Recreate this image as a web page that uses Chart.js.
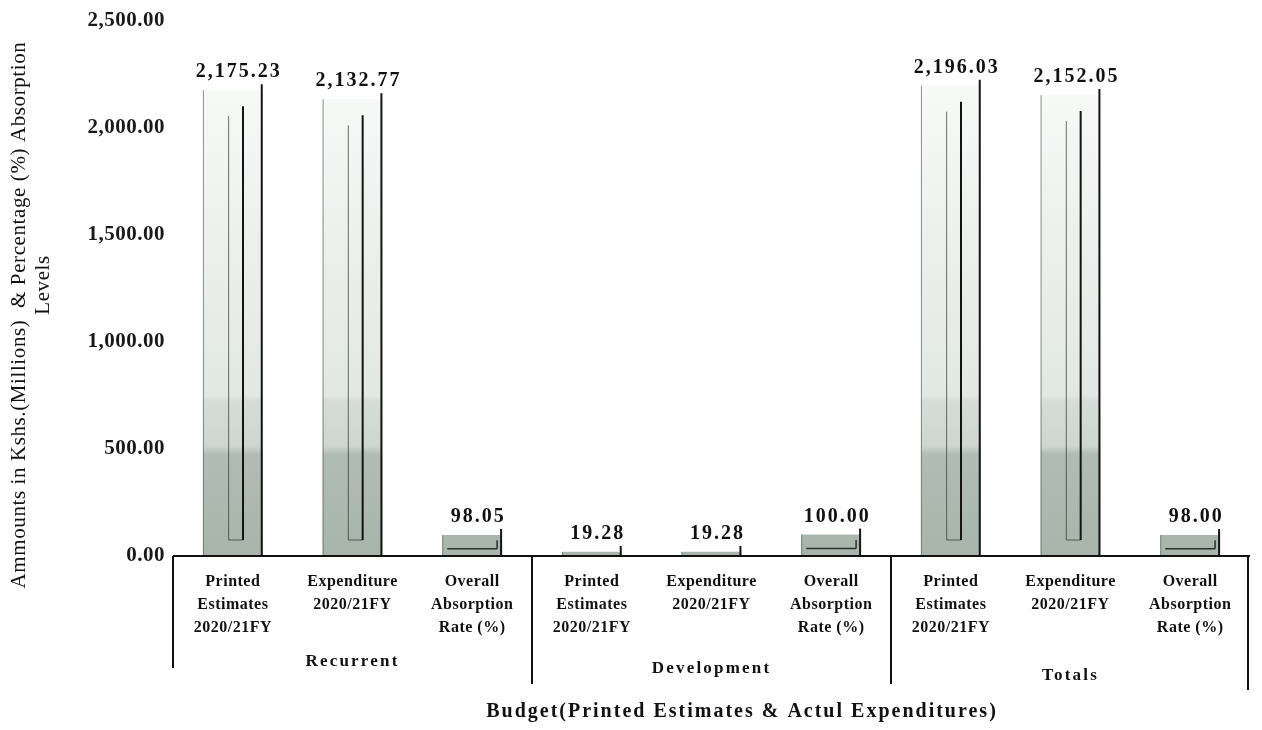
<!DOCTYPE html>
<html>
<head>
<meta charset="utf-8">
<script src="https://cdn.jsdelivr.net/npm/chart.js@4.4.1/dist/chart.umd.min.js"></script>
<style>
  html, body { margin: 0; padding: 0; background: #ffffff; }
  #wrap { width: 1262px; height: 730px; position: relative; }
</style>
</head>
<body>
<div id="wrap"><canvas id="budget"></canvas></div>
<script>
// Budget categories (one column per label, grouped by vote)
const categories = [
  ["Printed", "Estimates", "2020/21FY"],
  ["Expenditure", "2020/21FY"],
  ["Overall", "Absorption", "Rate (%)"],
  ["Printed", "Estimates", "2020/21FY"],
  ["Expenditure", "2020/21FY"],
  ["Overall", "Absorption", "Rate (%)"],
  ["Printed", "Estimates", "2020/21FY"],
  ["Expenditure", "2020/21FY"],
  ["Overall", "Absorption", "Rate (%)"]
];
const groups = ["Recurrent", "Development", "Totals"];

// Kshs. millions for estimates/expenditure, percent for absorption
const recurrentValues   = [2175.23, 2132.77, 98.05];
const developmentValues = [19.28, 19.28, 100.00];
const totalsValues      = [2196.03, 2152.05, 98.00];
const values = [...recurrentValues, ...developmentValues, ...totalsValues];

const yTicks = [0, 500, 1000, 1500, 2000, 2500];

const yTitle = ["Ammounts in Kshs.(Millions)  & Percentage (%) Absorption", "Levels"];
const xTitle = "Budget(Printed Estimates & Actul Expenditures)";

const SERIF = '"Liberation Serif", "Times New Roman", serif';
const fmt = v => v.toLocaleString('en-US', { minimumFractionDigits: 2, maximumFractionDigits: 2 });

// Column fill: darker grey-green at the base, fading to near white upward
function barFill(context) {
  const chart = context.chart;
  const y = chart.scales.y;
  if (!chart.chartArea || !y) return '#c9d2cb';
  const g = chart.ctx.createLinearGradient(0, y.getPixelForValue(0), 0, y.getPixelForValue(2500));
  g.addColorStop(0.00, '#a8b5ab');
  g.addColorStop(0.19, '#b1bdb4');
  g.addColorStop(0.205, '#cdd6cf');
  g.addColorStop(0.29, '#d6ddd8');
  g.addColorStop(0.30, '#e2e8e3');
  g.addColorStop(0.60, '#edf1ee');
  g.addColorStop(0.90, '#f8faf8');
  return g;
}

function seg(ctx, x1, y1, x2, y2) {
  ctx.beginPath();
  ctx.moveTo(x1, y1);
  ctx.lineTo(x2, y2);
  ctx.stroke();
}

const decor = {
  id: 'decor',
  beforeDraw(chart) {
    // slightly open tracking for the axis labels
    chart.ctx.letterSpacing = '0.5px';
  },
  afterDatasetsDraw(chart) {
    const ctx = chart.ctx;
    const meta = chart.getDatasetMeta(0);
    meta.data.forEach((bar, i) => {
      const p = bar.getProps(['x', 'y', 'base', 'width'], true);
      const l = p.x - p.width / 2, r = p.x + p.width / 2;
      const top = p.y, base = p.base, h = base - top;
      ctx.save();
      // front-left edge
      ctx.strokeStyle = 'rgba(80,92,84,0.65)';
      ctx.lineWidth = 1;
      seg(ctx, l + 0.5, top, l + 0.5, base);
      // dark depth edge on the right
      ctx.strokeStyle = '#141414';
      ctx.lineWidth = 2;
      seg(ctx, r - 1, top - 6, r - 1, base);
      // inner tube
      if (h > 60) {
        const tl = p.x - p.width * 0.07, tr = p.x + p.width * 0.17;
        const tt = top + 16, tb = base - 16;
        ctx.strokeStyle = 'rgba(40,52,44,0.7)';
        ctx.lineWidth = 1;
        seg(ctx, tl, tt + 10, tl, tb);
        seg(ctx, tl, tb, tr, tb);
        ctx.strokeStyle = '#141414';
        ctx.lineWidth = 2;
        seg(ctx, tr, tt, tr, tb);
      } else if (h > 10) {
        ctx.strokeStyle = '#2a302c';
        ctx.lineWidth = 1.5;
        seg(ctx, l + 5, base - h * 0.35, r - 5, base - h * 0.35);
        seg(ctx, r - 5, base - h * 0.35, r - 5, base - h * 0.75);
      }
      // value label
      ctx.fillStyle = '#111111';
      ctx.font = 'bold 20px ' + SERIF;
      ctx.letterSpacing = '2px';
      ctx.textAlign = 'center';
      ctx.textBaseline = 'bottom';
      ctx.fillText(fmt(values[i]), p.x + 6, top - 8);
      ctx.restore();
    });
  },
  afterDraw(chart) {
    const ctx = chart.ctx;
    const xs = chart.scales.x, ys = chart.scales.y;
    const area = chart.chartArea;
    const base = ys.getPixelForValue(0);
    ctx.save();
    ctx.strokeStyle = '#111111';
    ctx.lineWidth = 2;
    // category axis line and the grouping frame below it
    seg(ctx, area.left, base, area.right, base);
    seg(ctx, area.left, base, area.left, 668);
    seg(ctx, xs.getPixelForValue(2.5), base, xs.getPixelForValue(2.5), 684);
    seg(ctx, xs.getPixelForValue(5.5), base, xs.getPixelForValue(5.5), 684);
    seg(ctx, area.right - 2, base, area.right - 2, 690);

    // group names
    ctx.fillStyle = '#111111';
    ctx.font = 'bold 17px ' + SERIF;
    ctx.letterSpacing = '2.2px';
    ctx.textAlign = 'center';
    ctx.textBaseline = 'middle';
    const gy = [662, 669, 676];
    groups.forEach((g, k) => {
      ctx.fillText(g, xs.getPixelForValue(k * 3 + 1), gy[k]);
    });

    // category axis title
    ctx.font = 'bold 20px ' + SERIF;
    ctx.letterSpacing = '2px';
    ctx.fillText(xTitle, 742, 712);

    // value axis title (rotated, two lines)
    ctx.font = '21px ' + SERIF;
    ctx.letterSpacing = '0.6px';
    ctx.save();
    ctx.translate(19, 315);
    ctx.rotate(-Math.PI / 2);
    ctx.fillText(yTitle[0], 0, 0);
    ctx.restore();
    ctx.save();
    ctx.translate(43, 285);
    ctx.rotate(-Math.PI / 2);
    ctx.fillText(yTitle[1], 0, 0);
    ctx.restore();
    ctx.restore();
  }
};

new Chart(document.getElementById('budget'), {
  type: 'bar',
  data: {
    labels: categories,
    datasets: [{
      data: values,
      backgroundColor: barFill,
      borderWidth: 0,
      barPercentage: 0.5,
      categoryPercentage: 1.0
    }]
  },
  options: {
    responsive: true,
    maintainAspectRatio: false,
    animation: false,
    layout: { padding: { top: 18, right: 12, left: 0, bottom: 0 } },
    plugins: {
      legend: { display: false },
      tooltip: { enabled: false }
    },
    scales: {
      x: {
        type: 'category',
        offset: true,
        grid: { display: false, drawTicks: false },
        border: { display: false },
        ticks: {
          autoSkip: false,
          maxRotation: 0,
          minRotation: 0,
          padding: 14,
          color: '#111111',
          font: { family: SERIF, size: 16, weight: 'bold', lineHeight: 1.45 }
        },
        afterFit(scale) { scale.height = 174; }
      },
      y: {
        min: 0,
        max: 2500,
        afterBuildTicks(scale) { scale.ticks = yTicks.map(v => ({ value: v })); },
        grid: { display: false, drawTicks: false },
        border: { display: false },
        ticks: {
          padding: 8,
          color: '#1a1a1a',
          font: { family: SERIF, size: 21, weight: 'bold' },
          callback: v => fmt(v)
        },
        afterFit(scale) { scale.width = 173; }
      }
    }
  },
  plugins: [decor]
});
</script>
</body>
</html>
